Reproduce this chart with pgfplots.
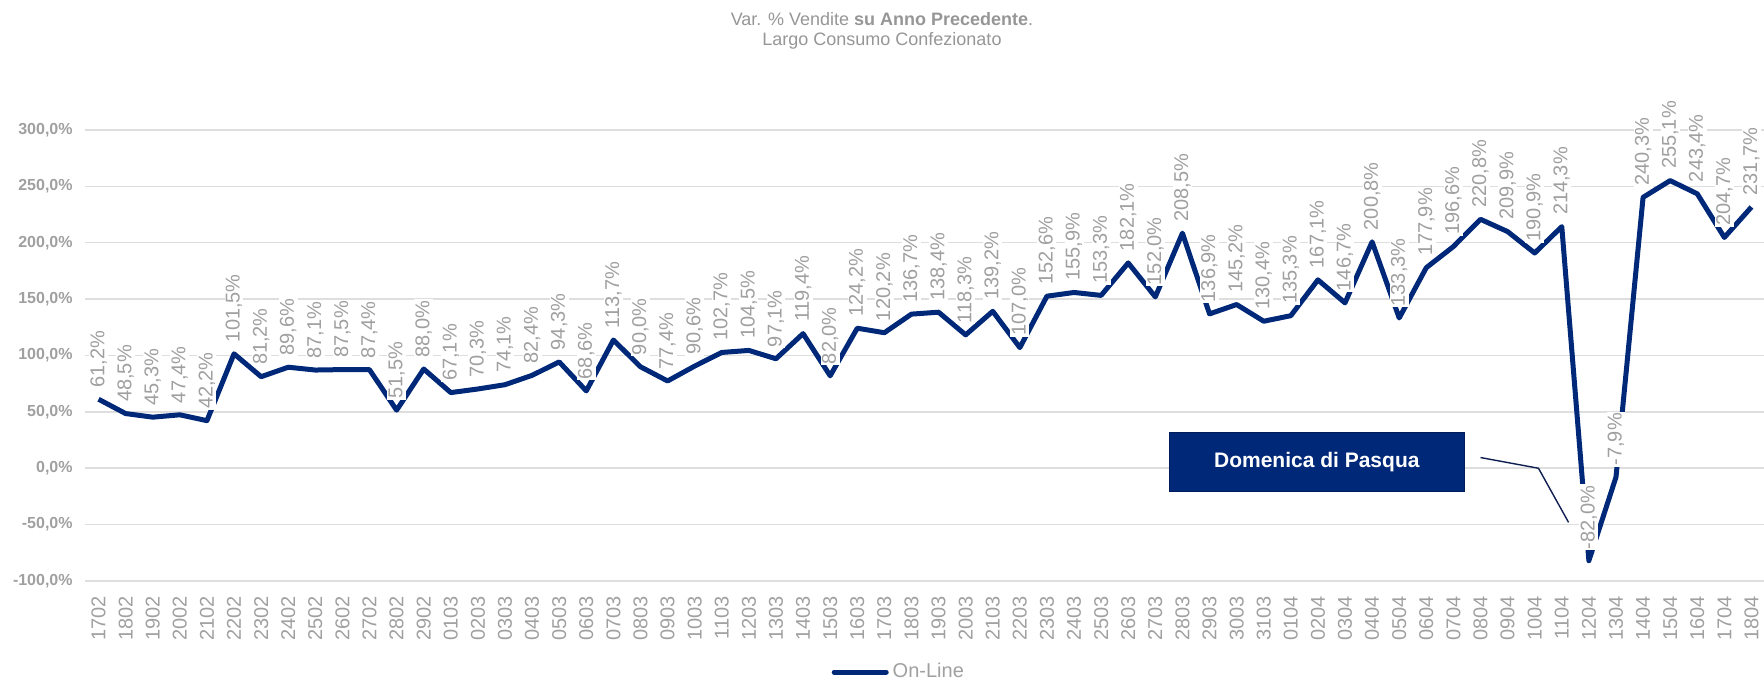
\documentclass[border=0pt]{standalone}
\usepackage{fontspec}
\setmainfont{Liberation Sans}
\usepackage{pgfplots}
\pgfplotsset{compat=1.18}
\definecolor{navy}{RGB}{0,40,120}
\definecolor{boxedge}{RGB}{0,28,90}
\definecolor{callout}{RGB}{15,30,80}
\definecolor{labgray}{RGB}{160,160,160}
\definecolor{titlegray}{RGB}{150,150,150}
\definecolor{gridgray}{RGB}{222,222,222}

\begin{document}
\begin{tikzpicture}
\path[use as bounding box] (-42.5pt,-51pt) rectangle (839.5pt,290.5pt);
\begin{axis}[
  at={(0pt,0pt)}, anchor=south west,
  width=840pt, height=225.5pt, scale only axis,
  clip=false,
  xmin=-0.5, xmax=61.5,
  ymin=-100, ymax=300,
  axis line style={draw=none},
  major tick length=0pt,
  ytick={-100,-50,...,300},
  ymajorgrids,
  grid style={gridgray, line width=0.75pt},
  /pgf/number format/assume math mode=true,
  yticklabel={\pgfmathprintnumber[fixed,fixed zerofill,precision=1,use comma]{\tick}\%},
  yticklabel style={font=\bfseries\fontsize{8}{9}\selectfont, text=labgray, inner sep=0pt, xshift=-6pt},
  xtick={0,...,61},
  xticklabels={1702,1802,1902,2002,2102,2202,2302,2402,2502,2602,2702,2802,2902,
    0103,0203,0303,0403,0503,0603,0703,0803,0903,1003,1103,1203,1303,1403,1503,1603,1703,1803,1903,2003,2103,2203,2303,2403,2503,2603,2703,2803,2903,3003,3103,
    0104,0204,0304,0404,0504,0604,0704,0804,0904,1004,1104,1204,1304,1404,1504,1604,1704,1804},
  xticklabel style={font=\fontsize{10}{12}\selectfont, text=labgray, inner sep=0pt, yshift=-7.5pt, rotate=90, anchor=east},
  title={Var. \% Vendite \textbf{su Anno Precedente}.\\Largo Consumo Confezionato},
  title style={at={(0.4744,1.194)}, anchor=center, align=center, font=\fontsize{9}{10}\selectfont, text=titlegray},
  legend style={at={(0.485,-0.202)}, anchor=center, draw=none, fill=none,
    font=\fontsize{10}{12}\selectfont, text=labgray},
  legend image code/.code={\draw[navy, line width=2.5pt, line cap=round] (0pt,0pt) -- (26pt,0pt);},
]
\addplot[navy, line width=2.5pt, line join=round, mark=none,
  nodes near coords={\pgfmathprintnumber[fixed,fixed zerofill,precision=1,use comma]{\pgfplotspointmeta}\%},
  nodes near coords align=horizontal,
  every node near coord/.append style={font=\fontsize{10}{12}\selectfont, text=labgray,
    fill=white, inner sep=0.6pt, yshift=4pt, rotate=90, anchor=west},
] coordinates {
  (0,61.2) (1,48.5) (2,45.3) (3,47.4) (4,42.2) (5,101.5) (6,81.2) (7,89.6)
  (8,87.1) (9,87.5) (10,87.4) (11,51.5) (12,88.0) (13,67.1) (14,70.3) (15,74.1)
  (16,82.4) (17,94.3) (18,68.6) (19,113.7) (20,90.0) (21,77.4) (22,90.6) (23,102.7)
  (24,104.5) (25,97.1) (26,119.4) (27,82.0) (28,124.2) (29,120.2) (30,136.7) (31,138.4)
  (32,118.3) (33,139.2) (34,107.0) (35,152.6) (36,155.9) (37,153.3) (38,182.1) (39,152.0)
  (40,208.5) (41,136.9) (42,145.2) (43,130.4) (44,135.3) (45,167.1) (46,146.7) (47,200.8)
  (48,133.3) (49,177.9) (50,196.6) (51,220.8) (52,209.9) (53,190.9) (54,214.3) (55,-82.0)
  (56,-7.9) (57,240.3) (58,255.1) (59,243.4) (60,204.7) (61,231.7)
};
\addlegendentry{On-Line}

\draw[callout, line width=0.7pt] (axis cs:51.0,9.5) -- (axis cs:53.14,0) -- (axis cs:54.25,-48);
\node[fill=navy, draw=boxedge, line width=0.6pt, text=white, minimum width=147.5pt, minimum height=29.5pt,
  font=\bfseries\fontsize{10.5}{12}\selectfont] at (axis cs:44.96,5.5) {Domenica di Pasqua};
\end{axis}
\end{tikzpicture}
\end{document}
